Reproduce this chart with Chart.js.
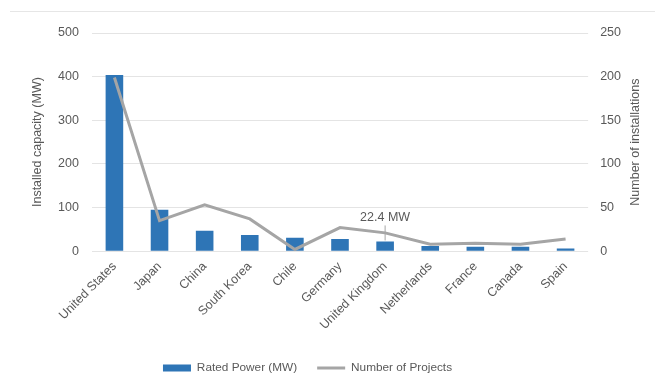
<!DOCTYPE html>
<html>
<head>
<meta charset="utf-8">
<script src="https://cdn.jsdelivr.net/npm/chart.js@4/dist/chart.umd.min.js"></script>
<style>
    html, body { margin: 0; padding: 0; background: #fff; }
    #wrap { position: relative; width: 660px; height: 374px; }
    #topline { position: absolute; left: 10px; right: 5px; top: 11px; border-top: 1px solid #e6e6e6; }
</style>
</head>
<body>
<div id="wrap">
    <div id="topline"></div>
    <canvas id="chart" width="660" height="374"></canvas>
</div>
<script>
        // Chart data
        const countries = ['United States', 'Japan', 'China', 'South Korea', 'Chile', 'Germany',
            'United Kingdom', 'Netherlands', 'France', 'Canada', 'Spain'];
        const ratedPower = [404, 95, 47, 37, 31, 28, 22.4, 12, 10, 10, 6];
        const projects = [199, 35, 53, 37, 2, 27, 21, 8, 9, 8, 14];
        const leftTicks = [0, 100, 200, 300, 400, 500];
        const rightTicks = [0, 50, 100, 150, 200, 250];
        const calloutIndex = 6;
        const calloutText = '22.4 MW';
        const rightTitle = 'Number of installations';

        const textColor = '#595959';
        const font = { family: 'Liberation Sans', size: 12.5 };

        // Callout above the UK bar + right axis title (reads bottom to top)
        const extrasPlugin = {
            id: 'extras',
            afterLayout(chart) {
                // legend sits a bit left of centre in the original
                chart.legend.left -= 24;
                chart.legend.right -= 24;
            },
            afterDatasetsDraw(chart) {
                const bar = chart.getDatasetMeta(1).data[calloutIndex];
                const ctx = chart.ctx;
                ctx.save();
                ctx.strokeStyle = '#a6a6a6';
                ctx.lineWidth = 1;
                ctx.beginPath();
                ctx.moveTo(bar.x, bar.y - 1);
                ctx.lineTo(bar.x, bar.y - 16);
                ctx.stroke();
                ctx.fillStyle = textColor;
                ctx.font = '12.5px "Liberation Sans"';
                ctx.textAlign = 'center';
                ctx.textBaseline = 'bottom';
                ctx.fillText(calloutText, bar.x, bar.y - 18);

                const area = chart.chartArea;
                ctx.translate(636, (area.top + area.bottom) / 2);
                ctx.rotate(-Math.PI / 2);
                ctx.textBaseline = 'middle';
                ctx.fillText(rightTitle, 0, 0);
                ctx.restore();
            }
        };

        new Chart(document.getElementById('chart').getContext('2d'), {
            type: 'bar',
            data: {
                labels: countries,
                datasets: [{
                    type: 'line',
                    label: 'Number of Projects',
                    data: projects,
                    yAxisID: 'y1',
                    borderColor: '#a5a5a5',
                    backgroundColor: '#a5a5a5',
                    borderWidth: 3,
                    pointRadius: 0,
                    pointStyle: 'line',
                    tension: 0,
                    order: 1
                }, {
                    label: 'Rated Power (MW)',
                    data: ratedPower,
                    yAxisID: 'y',
                    backgroundColor: '#2e75b6',
                    categoryPercentage: 1,
                    barPercentage: 0.39,
                    pointStyle: 'rect',
                    order: 2
                }]
            },
            options: {
                responsive: false,
                animation: false,
                layout: { padding: { left: 30, right: 27, top: 33, bottom: -10 } },
                plugins: {
                    legend: {
                        position: 'bottom',
                        reverse: true,
                        labels: {
                            color: textColor,
                            font: { family: 'Liberation Sans', size: 11.8 },
                            usePointStyle: true,
                            pointStyleWidth: 28,
                            boxHeight: 7,
                            padding: 20
                        }
                    },
                    tooltip: { enabled: false }
                },
                scales: {
                    x: {
                        grid: { display: false },
                        border: { display: false },
                        ticks: { color: textColor, font: font, maxRotation: 45, minRotation: 45, padding: 0 },
                        afterFit: axis => { axis.height = 91; }
                    },
                    y: {
                        position: 'left',
                        min: 0,
                        max: 500,
                        afterBuildTicks: axis => { axis.ticks = leftTicks.map(v => ({ value: v })); },
                        grid: { color: '#e4e4e4', drawTicks: false },
                        border: { display: false },
                        ticks: { color: textColor, font: font, padding: 13 },
                        title: { display: true, text: 'Installed capacity (MW)', color: textColor, font: font, padding: 0 }
                    },
                    y1: {
                        position: 'right',
                        min: 0,
                        max: 250,
                        afterBuildTicks: axis => { axis.ticks = rightTicks.map(v => ({ value: v })); },
                        grid: { display: false, drawTicks: false },
                        border: { display: false },
                        ticks: { color: textColor, font: font, padding: 12 }
                    }
                }
            },
            plugins: [extrasPlugin]
        });
</script>
</body>
</html>
